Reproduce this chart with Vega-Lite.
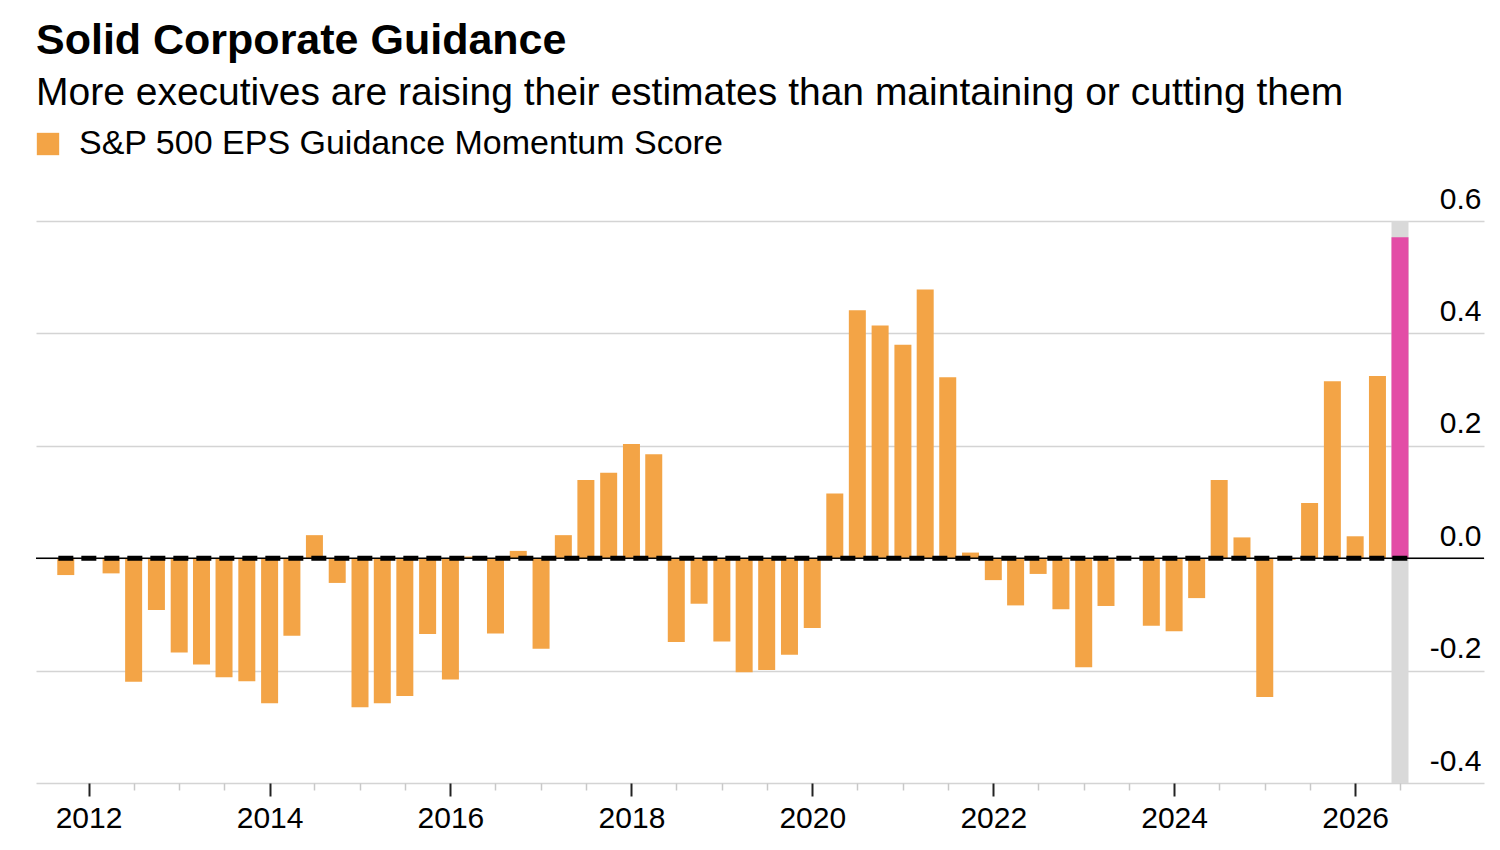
{
  "$schema": "https://vega.github.io/schema/vega-lite/v6.json",
  "description": "S&P 500 EPS guidance momentum score, quarterly bars with the latest quarter highlighted.",
  "width": 1448,
  "height": 562,
  "padding": {"left": 35, "right": 17, "top": 20, "bottom": 5},
  "background": "#ffffff",
  "title": {
    "text": "Solid Corporate Guidance",
    "subtitle": "More executives are raising their estimates than maintaining or cutting them",
    "anchor": "start",
    "frame": "group",
    "font": "Liberation Sans",
    "fontSize": 43,
    "fontWeight": "bold",
    "color": "#000000",
    "subtitleFont": "Liberation Sans",
    "subtitleFontSize": 39,
    "subtitleColor": "#000000",
    "subtitlePadding": 11,
    "offset": 14
  },
  "data": {
    "values": [
      {"date": "2011-10-01", "score": -0.030, "series": "S&P 500 EPS Guidance Momentum Score"},
      {"date": "2012-01-01", "score": 0.000, "series": "S&P 500 EPS Guidance Momentum Score"},
      {"date": "2012-04-01", "score": -0.027, "series": "S&P 500 EPS Guidance Momentum Score"},
      {"date": "2012-07-01", "score": -0.220, "series": "S&P 500 EPS Guidance Momentum Score"},
      {"date": "2012-10-01", "score": -0.092, "series": "S&P 500 EPS Guidance Momentum Score"},
      {"date": "2013-01-01", "score": -0.168, "series": "S&P 500 EPS Guidance Momentum Score"},
      {"date": "2013-04-01", "score": -0.189, "series": "S&P 500 EPS Guidance Momentum Score"},
      {"date": "2013-07-01", "score": -0.212, "series": "S&P 500 EPS Guidance Momentum Score"},
      {"date": "2013-10-01", "score": -0.219, "series": "S&P 500 EPS Guidance Momentum Score"},
      {"date": "2014-01-01", "score": -0.258, "series": "S&P 500 EPS Guidance Momentum Score"},
      {"date": "2014-04-01", "score": -0.138, "series": "S&P 500 EPS Guidance Momentum Score"},
      {"date": "2014-07-01", "score": 0.041, "series": "S&P 500 EPS Guidance Momentum Score"},
      {"date": "2014-10-01", "score": -0.044, "series": "S&P 500 EPS Guidance Momentum Score"},
      {"date": "2015-01-01", "score": -0.265, "series": "S&P 500 EPS Guidance Momentum Score"},
      {"date": "2015-04-01", "score": -0.258, "series": "S&P 500 EPS Guidance Momentum Score"},
      {"date": "2015-07-01", "score": -0.245, "series": "S&P 500 EPS Guidance Momentum Score"},
      {"date": "2015-10-01", "score": -0.135, "series": "S&P 500 EPS Guidance Momentum Score"},
      {"date": "2016-01-01", "score": -0.216, "series": "S&P 500 EPS Guidance Momentum Score"},
      {"date": "2016-04-01", "score": 0.003, "series": "S&P 500 EPS Guidance Momentum Score"},
      {"date": "2016-07-01", "score": -0.134, "series": "S&P 500 EPS Guidance Momentum Score"},
      {"date": "2016-10-01", "score": 0.013, "series": "S&P 500 EPS Guidance Momentum Score"},
      {"date": "2017-01-01", "score": -0.161, "series": "S&P 500 EPS Guidance Momentum Score"},
      {"date": "2017-04-01", "score": 0.041, "series": "S&P 500 EPS Guidance Momentum Score"},
      {"date": "2017-07-01", "score": 0.139, "series": "S&P 500 EPS Guidance Momentum Score"},
      {"date": "2017-10-01", "score": 0.152, "series": "S&P 500 EPS Guidance Momentum Score"},
      {"date": "2018-01-01", "score": 0.203, "series": "S&P 500 EPS Guidance Momentum Score"},
      {"date": "2018-04-01", "score": 0.185, "series": "S&P 500 EPS Guidance Momentum Score"},
      {"date": "2018-07-01", "score": -0.149, "series": "S&P 500 EPS Guidance Momentum Score"},
      {"date": "2018-10-01", "score": -0.081, "series": "S&P 500 EPS Guidance Momentum Score"},
      {"date": "2019-01-01", "score": -0.148, "series": "S&P 500 EPS Guidance Momentum Score"},
      {"date": "2019-04-01", "score": -0.203, "series": "S&P 500 EPS Guidance Momentum Score"},
      {"date": "2019-07-01", "score": -0.199, "series": "S&P 500 EPS Guidance Momentum Score"},
      {"date": "2019-10-01", "score": -0.172, "series": "S&P 500 EPS Guidance Momentum Score"},
      {"date": "2020-01-01", "score": -0.124, "series": "S&P 500 EPS Guidance Momentum Score"},
      {"date": "2020-04-01", "score": 0.115, "series": "S&P 500 EPS Guidance Momentum Score"},
      {"date": "2020-07-01", "score": 0.441, "series": "S&P 500 EPS Guidance Momentum Score"},
      {"date": "2020-10-01", "score": 0.414, "series": "S&P 500 EPS Guidance Momentum Score"},
      {"date": "2021-01-01", "score": 0.380, "series": "S&P 500 EPS Guidance Momentum Score"},
      {"date": "2021-04-01", "score": 0.478, "series": "S&P 500 EPS Guidance Momentum Score"},
      {"date": "2021-07-01", "score": 0.322, "series": "S&P 500 EPS Guidance Momentum Score"},
      {"date": "2021-10-01", "score": 0.010, "series": "S&P 500 EPS Guidance Momentum Score"},
      {"date": "2022-01-01", "score": -0.039, "series": "S&P 500 EPS Guidance Momentum Score"},
      {"date": "2022-04-01", "score": -0.084, "series": "S&P 500 EPS Guidance Momentum Score"},
      {"date": "2022-07-01", "score": -0.028, "series": "S&P 500 EPS Guidance Momentum Score"},
      {"date": "2022-10-01", "score": -0.091, "series": "S&P 500 EPS Guidance Momentum Score"},
      {"date": "2023-01-01", "score": -0.194, "series": "S&P 500 EPS Guidance Momentum Score"},
      {"date": "2023-04-01", "score": -0.085, "series": "S&P 500 EPS Guidance Momentum Score"},
      {"date": "2023-07-01", "score": 0.000, "series": "S&P 500 EPS Guidance Momentum Score"},
      {"date": "2023-10-01", "score": -0.120, "series": "S&P 500 EPS Guidance Momentum Score"},
      {"date": "2024-01-01", "score": -0.130, "series": "S&P 500 EPS Guidance Momentum Score"},
      {"date": "2024-04-01", "score": -0.071, "series": "S&P 500 EPS Guidance Momentum Score"},
      {"date": "2024-07-01", "score": 0.139, "series": "S&P 500 EPS Guidance Momentum Score"},
      {"date": "2024-10-01", "score": 0.037, "series": "S&P 500 EPS Guidance Momentum Score"},
      {"date": "2025-01-01", "score": -0.247, "series": "S&P 500 EPS Guidance Momentum Score"},
      {"date": "2025-04-01", "score": -0.003, "series": "S&P 500 EPS Guidance Momentum Score"},
      {"date": "2025-07-01", "score": 0.098, "series": "S&P 500 EPS Guidance Momentum Score"},
      {"date": "2025-10-01", "score": 0.315, "series": "S&P 500 EPS Guidance Momentum Score"},
      {"date": "2026-01-01", "score": 0.039, "series": "S&P 500 EPS Guidance Momentum Score"},
      {"date": "2026-04-01", "score": 0.324, "series": "S&P 500 EPS Guidance Momentum Score"},
      {"date": "2026-07-01", "score": 0.571, "series": "S&P 500 EPS Guidance Momentum Score"}
    ],
    "format": {"parse": {"date": "date"}}
  },
  "transform": [
    {"joinaggregate": [{"op": "max", "field": "date", "as": "last"}]}
  ],
  "layer": [
    {
      "transform": [{"filter": "time(datum.date) === time(datum.last)"}],
      "mark": {"type": "bar", "width": 17, "color": "#d9d9d9"},
      "encoding": {
        "x": {"field": "date", "type": "temporal"},
        "y": {"datum": -0.4},
        "y2": {"datum": 0.6}
      }
    },
    {
      "mark": {"type": "bar", "width": 17},
      "encoding": {
        "x": {
          "field": "date",
          "type": "temporal",
          "scale": {
            "type": "utc",
            "nice": false,
            "domain": [
              {"year": 2011, "month": 6, "date": 23, "utc": true},
              {"year": 2027, "month": 5, "date": 16, "utc": true}
            ]
          },
          "axis": {
            "title": null,
            "orient": "bottom",
            "domain": false,
            "grid": false,
            "labelOverlap": false,
            "labelFlush": false,
            "labelFont": "Liberation Sans",
            "labelFontSize": 30,
            "labelColor": "#000000",
            "labelPadding": 7,
            "values": [
              {"year": 2012, "month": 1, "date": 1, "utc": true},
              {"year": 2012, "month": 7, "date": 1, "utc": true},
              {"year": 2013, "month": 1, "date": 1, "utc": true},
              {"year": 2013, "month": 7, "date": 1, "utc": true},
              {"year": 2014, "month": 1, "date": 1, "utc": true},
              {"year": 2014, "month": 7, "date": 1, "utc": true},
              {"year": 2015, "month": 1, "date": 1, "utc": true},
              {"year": 2015, "month": 7, "date": 1, "utc": true},
              {"year": 2016, "month": 1, "date": 1, "utc": true},
              {"year": 2016, "month": 7, "date": 1, "utc": true},
              {"year": 2017, "month": 1, "date": 1, "utc": true},
              {"year": 2017, "month": 7, "date": 1, "utc": true},
              {"year": 2018, "month": 1, "date": 1, "utc": true},
              {"year": 2018, "month": 7, "date": 1, "utc": true},
              {"year": 2019, "month": 1, "date": 1, "utc": true},
              {"year": 2019, "month": 7, "date": 1, "utc": true},
              {"year": 2020, "month": 1, "date": 1, "utc": true},
              {"year": 2020, "month": 7, "date": 1, "utc": true},
              {"year": 2021, "month": 1, "date": 1, "utc": true},
              {"year": 2021, "month": 7, "date": 1, "utc": true},
              {"year": 2022, "month": 1, "date": 1, "utc": true},
              {"year": 2022, "month": 7, "date": 1, "utc": true},
              {"year": 2023, "month": 1, "date": 1, "utc": true},
              {"year": 2023, "month": 7, "date": 1, "utc": true},
              {"year": 2024, "month": 1, "date": 1, "utc": true},
              {"year": 2024, "month": 7, "date": 1, "utc": true},
              {"year": 2025, "month": 1, "date": 1, "utc": true},
              {"year": 2025, "month": 7, "date": 1, "utc": true},
              {"year": 2026, "month": 1, "date": 1, "utc": true},
              {"year": 2026, "month": 7, "date": 1, "utc": true}
            ],
            "labelExpr": "utcmonth(datum.value) === 0 && utcyear(datum.value) % 2 === 0 ? utcFormat(datum.value, '%Y') : ''",
            "tickSize": {
              "condition": {"test": "utcmonth(datum.value) === 0 && utcyear(datum.value) % 2 === 0", "value": 13},
              "value": 7
            },
            "tickColor": {
              "condition": {"test": "utcmonth(datum.value) === 0 && utcyear(datum.value) % 2 === 0", "value": "#222222"},
              "value": "#c8c8c8"
            },
            "tickWidth": {
              "condition": {"test": "utcmonth(datum.value) === 0 && utcyear(datum.value) % 2 === 0", "value": 2},
              "value": 1.5
            }
          }
        },
        "y": {
          "field": "score",
          "type": "quantitative",
          "scale": {"domain": [-0.4, 0.6], "nice": false, "zero": false},
          "axis": {
            "title": null,
            "orient": "right",
            "values": [-0.4, -0.2, 0, 0.2, 0.4, 0.6],
            "format": ".1f",
            "labelExpr": "replace(datum.label, '\u2212', '-')",
            "ticks": false,
            "tickSize": 0,
            "domain": false,
            "grid": true,
            "gridColor": "#d4d4d4",
            "gridWidth": 1.5,
            "labelAlign": "right",
            "labelBaseline": "alphabetic",
            "labelPadding": -3,
            "labelOffset": -13,
            "labelFont": "Liberation Sans",
            "labelFontSize": 30,
            "labelColor": "#000000"
          }
        },
        "color": {
          "condition": {"test": "time(datum.date) === time(datum.last)", "value": "#e34ca6"},
          "field": "series",
          "type": "nominal",
          "scale": {"range": ["#f3a446"]},
          "legend": {
            "title": null,
            "orient": "top",
            "direction": "horizontal",
            "symbolType": "square",
            "symbolSize": 500,
            "symbolStrokeWidth": 0,
            "symbolOpacity": 1,
            "symbolOffset": -5,
            "labelFont": "Liberation Sans",
            "labelFontSize": 34,
            "labelColor": "#000000",
            "labelOffset": 14,
            "labelLimit": 1000,
            "padding": 0,
            "offset": 60
          }
        }
      }
    },
    {
      "transform": [{"filter": "time(datum.date) === time(datum.last)"}],
      "mark": {"type": "rule", "color": "#000000", "strokeWidth": 1.5},
      "encoding": {
        "y": {"datum": 0}
      }
    },
    {
      "transform": [{"filter": "time(datum.date) === time(datum.last)"}],
      "mark": {"type": "rule", "color": "#000000", "strokeWidth": 5, "strokeDash": [15, 8]},
      "encoding": {
        "x": {"datum": {"year": 2011, "month": 9, "date": 1, "utc": true}, "type": "temporal"},
        "x2": {"datum": {"year": 2026, "month": 8, "date": 4, "utc": true}},
        "y": {"datum": 0}
      }
    }
  ],
  "config": {
    "view": {"stroke": null},
    "font": "Liberation Sans"
  }
}
